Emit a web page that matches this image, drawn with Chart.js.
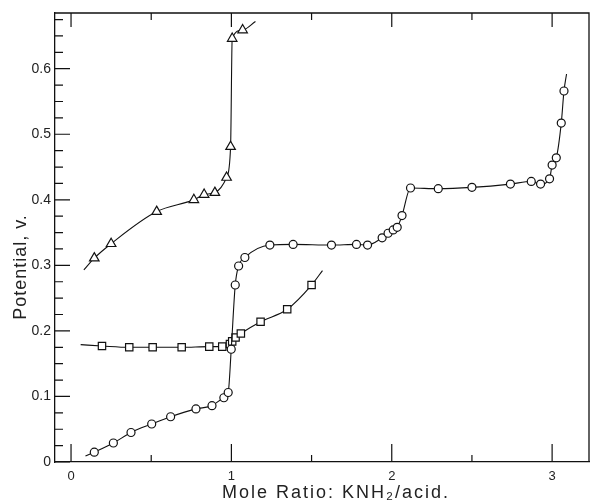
<!DOCTYPE html>
<html lang="en">
<head>
<meta charset="UTF-8">
<title>Potential vs mole ratio</title>
<script src="https://cdn.jsdelivr.net/npm/chart.js"></script>
<style>
  html, body { margin: 0; padding: 0; background: #fff; }
  #wrap { width: 590px; height: 504px; }
</style>
</head>
<body>
<div id="wrap"><canvas id="chart"></canvas></div>
<script>
// triangles (measured points), plus where the drawn curve starts and ends
var triX = [0.145, 0.25, 0.534, 0.766, 0.83, 0.897, 0.97, 0.995, 1.005, 1.07];
var triY = [0.311, 0.333, 0.382, 0.400, 0.408, 0.411, 0.434, 0.481, 0.646, 0.659];
var triCurve = [[0.08, 0.293], [1.15, 0.672]];

// circles
var cirX = [0.145, 0.264, 0.374, 0.503, 0.621, 0.779, 0.879, 0.953, 0.98, 0.999, 1.024, 1.045, 1.084,
            1.24, 1.385, 1.624, 1.78, 1.849, 1.94, 1.977, 2.009, 2.034, 2.064, 2.117, 2.29, 2.50,
            2.74, 2.87, 2.928, 2.984, 3.0, 3.026, 3.057, 3.074];
var cirY = [0.015, 0.029, 0.045, 0.058, 0.069, 0.081, 0.086, 0.098, 0.106, 0.172, 0.270, 0.299, 0.312,
            0.331, 0.332, 0.331, 0.332, 0.331, 0.342, 0.349, 0.354, 0.358, 0.376, 0.418, 0.417, 0.419,
            0.424, 0.428, 0.424, 0.432, 0.453, 0.464, 0.517, 0.566];
var cirCurve = [[0.09, 0.009], [3.09, 0.592]];

// squares
var sqX = [0.193, 0.363, 0.509, 0.69, 0.862, 0.943, 0.991, 1.005, 1.026, 1.059, 1.182, 1.348, 1.50];
var sqY = [0.177, 0.175, 0.175, 0.175, 0.176, 0.176, 0.180, 0.184, 0.190, 0.196, 0.214, 0.233, 0.270];
var sqCurve = [[0.06, 0.179], [1.568, 0.292]];

var xTicks = [0, 1, 2, 3];
var xMinor = [0.5, 1.5, 2.5];
var yTicks = [0, 0.1, 0.2, 0.3, 0.4, 0.5, 0.6];
var yMinorStep = 0.025;

var xTitle = 'Mole Ratio: KNH\u2082/acid.';
var yTitle = 'Potential, v.';

function series(xs, ys, curve) {
    var pts = [{ x: curve[0][0], y: curve[0][1] }];
    for (var i = 0; i < xs.length; i++) pts.push({ x: xs[i], y: ys[i] });
    pts.push({ x: curve[1][0], y: curve[1][1] });
    return pts;
}

function markerRadius(r) {
    return function (ctx) {
        var n = ctx.dataset.data.length;
        return (ctx.dataIndex === 0 || ctx.dataIndex === n - 1) ? 0 : r;
    };
}

function makeSet(data, style, r) {
    return {
        data: data,
        borderColor: '#111',
        borderWidth: 1.1,
        backgroundColor: '#fff',
        pointStyle: style,
        pointRadius: markerRadius(r),
        pointBorderWidth: 1.2,
        pointBorderColor: '#111',
        pointBackgroundColor: '#fff',
        cubicInterpolationMode: 'monotone',
        fill: false
    };
}

var FONT = '"Liberation Sans", Arial, sans-serif';

// inward ticks, top/right border and axis titles
var frame = {
    id: 'frame',
    afterDraw: function (chart) {
        var c = chart.ctx, xs = chart.scales.x, ys = chart.scales.y, a = chart.chartArea;
        c.save();
        c.strokeStyle = '#111';
        c.lineWidth = 1.3;
        c.beginPath();
        c.moveTo(a.left, a.top); c.lineTo(a.right, a.top); c.lineTo(a.right, a.bottom);
        c.stroke();
        c.lineWidth = 1.2;
        c.beginPath();
        xTicks.forEach(function (v) {
            var p = xs.getPixelForValue(v);
            c.moveTo(p, a.bottom); c.lineTo(p, a.bottom - 18);
            c.moveTo(p, a.top); c.lineTo(p, a.top + 14);
        });
        xMinor.forEach(function (v) {
            var p = xs.getPixelForValue(v);
            c.moveTo(p, a.bottom); c.lineTo(p, a.bottom - 7);
            c.moveTo(p, a.top); c.lineTo(p, a.top + 7);
        });
        yTicks.forEach(function (v) {
            var p = ys.getPixelForValue(v);
            c.moveTo(a.left, p); c.lineTo(a.left + 15, p);
        });
        for (var v = 0; v <= ys.max + 1e-9; v += yMinorStep) {
            var p = ys.getPixelForValue(v);
            c.moveTo(a.left, p); c.lineTo(a.left + 8, p);
        }
        c.stroke();

        c.fillStyle = '#222';
        c.font = '18px ' + FONT;
        c.textAlign = 'center';
        c.textBaseline = 'middle';
        if ('letterSpacing' in c) c.letterSpacing = '2px';
        c.fillText(xTitle, 336, 493);
        if ('letterSpacing' in c) c.letterSpacing = '1px';
        c.translate(21, 267);
        c.rotate(-Math.PI / 2);
        c.fillText(yTitle, 0, 0);
        c.restore();
    }
};

var chart = new Chart(document.getElementById('chart'), {
    type: 'line',
    data: {
        datasets: [
            makeSet(series(triX, triY, triCurve), 'triangle', 5.5),
            makeSet(series(cirX, cirY, cirCurve), 'circle', 4),
            makeSet(series(sqX, sqY, sqCurve), 'rect', 5.2)
        ]
    },
    options: {
        responsive: true,
        maintainAspectRatio: false,
        animation: false,
        layout: { padding: { top: 13, right: 1, left: 0, bottom: 0 } },
        plugins: { legend: { display: false }, tooltip: { enabled: false } },
        scales: {
            x: {
                type: 'linear',
                min: -0.1,
                max: 3.23,
                afterFit: function (s) { s.height = 42; },
                afterBuildTicks: function (s) { s.ticks = xTicks.map(function (v) { return { value: v }; }); },
                grid: { display: false, drawTicks: false, tickLength: 0 },
                border: { display: true, color: '#111', width: 1.3 },
                ticks: {
                    color: '#222',
                    font: { family: FONT, size: 13 },
                    padding: 7,
                    maxRotation: 0,
                    callback: function (v) { return String(v); }
                }
            },
            y: {
                type: 'linear',
                min: 0,
                max: 0.685,
                afterFit: function (s) { s.width = 55; },
                afterBuildTicks: function (s) { s.ticks = yTicks.map(function (v) { return { value: v }; }); },
                grid: { display: false, drawTicks: false, tickLength: 0 },
                border: { display: true, color: '#111', width: 1.3 },
                ticks: {
                    color: '#222',
                    font: { family: FONT, size: 14 },
                    padding: 4,
                    callback: function (v) { return v === 0 ? '0' : v.toFixed(1); }
                }
            }
        }
    },
    plugins: [frame]
});
</script>
</body>
</html>
